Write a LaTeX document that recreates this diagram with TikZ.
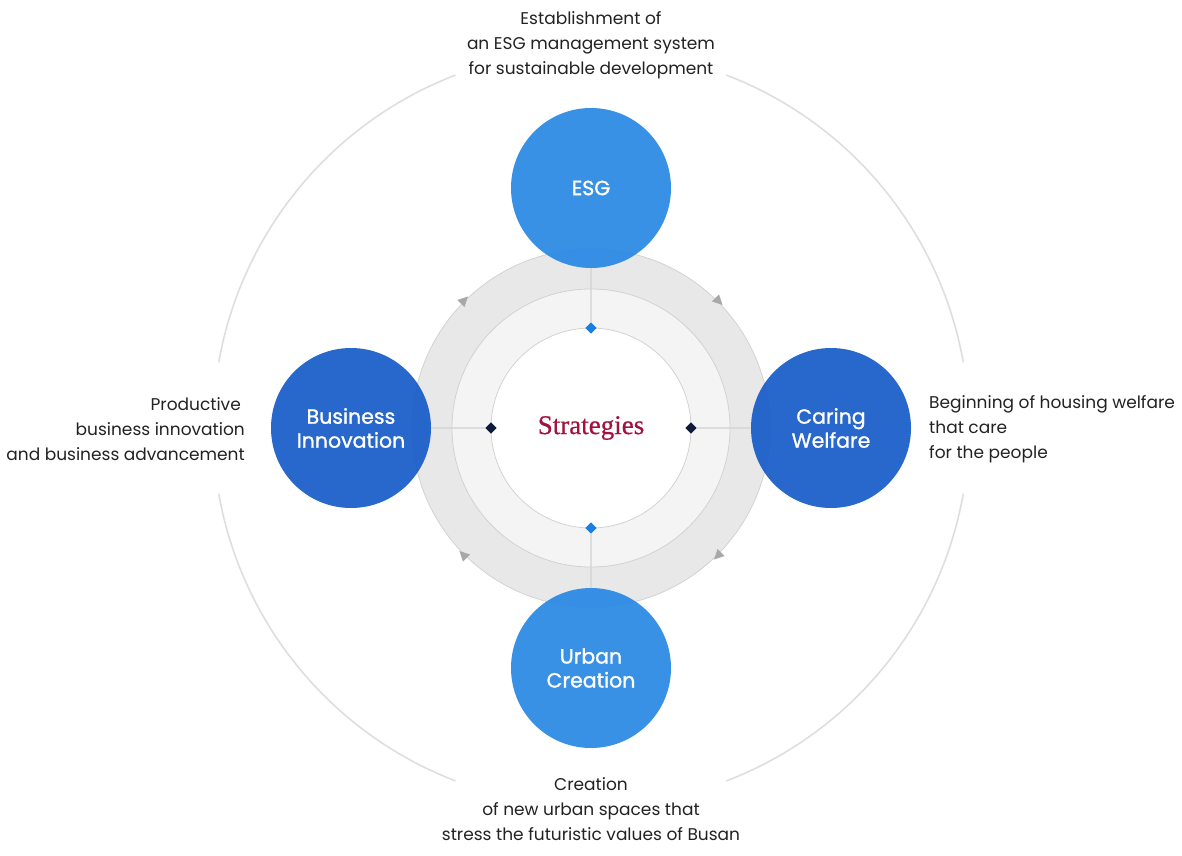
\documentclass[tikz,border=0pt]{standalone}
\usepackage{fontspec}
\setmainfont{Poppins}
\newfontfamily\labelfont{Poppins}[FakeBold=1.3]
\newfontfamily\titlefont{Liberation Serif}[FakeBold=0.6]
\definecolor{lightblue}{HTML}{2E8BE5}
\definecolor{darkblue}{HTML}{1C5FC9}
\definecolor{crimson}{HTML}{A1133F}
\definecolor{ringgray}{HTML}{E8E8E8}
\definecolor{ringlight}{HTML}{F4F4F4}
\definecolor{ringedge}{HTML}{D2D2D2}
\definecolor{arcgray}{HTML}{DEDEDE}
\definecolor{arrowgray}{HTML}{A8A8A8}
\definecolor{dotblue}{HTML}{1A7FE2}
\definecolor{dotnavy}{HTML}{0E1B3A}
\definecolor{textdark}{HTML}{222222}

\begin{document}
\begin{tikzpicture}[x=1pt,y=1pt,
	strategy/.style={shape=circle,fill opacity=0.95,text opacity=1,minimum size=160pt,inner sep=0pt,text=white,align=center,font=\labelfont\fontsize{20.5}{24}\selectfont},
	dot/.style={shape=rectangle,rotate=45,minimum size=8pt,inner sep=0pt},
	caption/.style={text=textdark,inner sep=0pt,font=\fontsize{17}{25}\selectfont},
	link/.style={draw=ringedge,line width=1.2pt},
	ringarrow/.style={fill=arrowgray}]
	\useasboundingbox (-591,-427) rectangle (591,428);

	% outer arcs
	\draw[arcgray, line width=1.6pt] (10:378) arc[start angle=10, end angle=69, radius=378];
	\draw[arcgray, line width=1.6pt] (111:378) arc[start angle=111, end angle=170, radius=378];
	\draw[arcgray, line width=1.6pt] (190:378) arc[start angle=190, end angle=249, radius=378];
	\draw[arcgray, line width=1.6pt] (291:378) arc[start angle=291, end angle=350, radius=378];

	% rings
	\filldraw[fill=ringgray, draw=ringedge, line width=0.8pt] (0,0) circle (179);
	\filldraw[fill=ringlight, draw=ringedge, line width=0.8pt] (0,0) circle (139);
	\filldraw[fill=white, draw=ringedge, line width=0.8pt] (0,0) circle (100);

	\foreach \a in {45,135,225,315}
		\fill[ringarrow, shift={(\a:180)}, rotate=\a] (0,-6) -- (5,4) -- (-5,4) -- cycle;

	\node[font=\titlefont\fontsize{27}{30}\selectfont, text=crimson] (center) at (0,0) {Strategies};

	\node[dot, fill=dotblue] (dtop) at (0,100) {};
	\node[dot, fill=dotblue] (dbottom) at (0,-100) {};
	\node[dot, fill=dotnavy] (dleft) at (-100,0) {};
	\node[dot, fill=dotnavy] (dright) at (100,0) {};

	\node[strategy, fill=lightblue] (esg) at (0,240) {ESG};
	\node[strategy, fill=lightblue] (urban) at (0,-240) {Urban\\Creation};
	\node[strategy, fill=darkblue] (business) at (-240,0) {Business\\Innovation};
	\node[strategy, fill=darkblue] (caring) at (240,0) {Caring\\Welfare};

	\path[link] (esg) edge (dtop);
	\path[link] (urban) edge (dbottom);
	\path[link] (business) edge (dleft);
	\path[link] (caring) edge (dright);

	\node[caption, align=center] (esgtext) at (0,383) {Establishment of\\an ESG management system\\for sustainable development};
	\node[caption, align=center] (urbantext) at (0,-381) {Creation\\of new urban spaces that\\stress the futuristic values of Busan};
	\node[caption, align=right, anchor=east] (businesstext) at (-346,-1) {Productive\hspace*{4pt}\\business innovation\\and business advancement};
	\node[caption, align=left, anchor=west] (caringtext) at (338,-1) {Beginning of housing welfare\\that care\\for the people};
\end{tikzpicture}
\end{document}
